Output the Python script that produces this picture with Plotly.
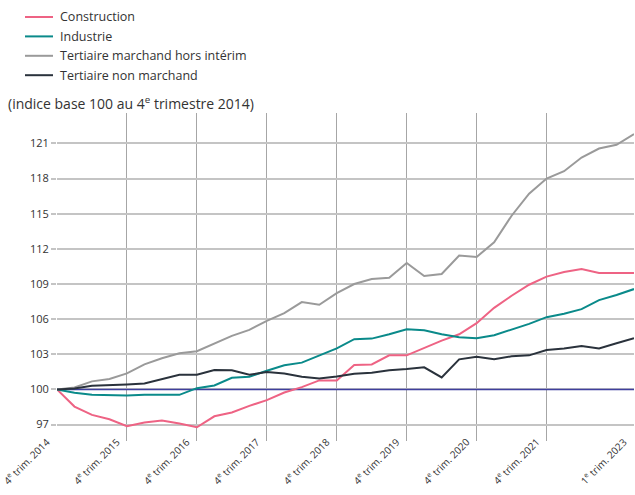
import plotly.graph_objects as go

quarters = list(range(34))  # 4e trim. 2014 -> 1er trim. 2023
BASE = 100

construction = [100, 98.54, 97.83, 97.46, 96.86, 97.17, 97.34, 97.09, 96.77, 97.71,
                98.03, 98.6, 99.09, 99.74, 100.2, 100.77, 100.77, 102.09, 102.14, 102.91,
                102.91, 103.54, 104.17, 104.71, 105.66, 106.97, 108.0, 108.94, 109.63, 110.03,
                110.29, 109.94, 109.94, 109.94]
industrie = [100, 99.71, 99.54, 99.49, 99.49, 99.54, 99.54, 99.54, 100.11, 100.34,
             101.0, 101.09, 101.6, 102.06, 102.29, 102.91, 103.51, 104.29, 104.34, 104.71,
             105.14, 105.06, 104.71, 104.46, 104.37, 104.63, 105.09, 105.6, 106.17, 106.46,
             106.86, 107.63, 108.06, 108.57]
tertiaire_marchand = [100, 100.17, 100.69, 100.89, 101.37, 102.14, 102.66, 103.09, 103.26, 103.94,
                      104.57, 105.09, 105.86, 106.51, 107.46, 107.23, 108.23, 109.0, 109.43, 109.54,
                      110.8, 109.69, 109.86, 111.43, 111.31, 112.57, 114.83, 116.71, 118.0, 118.63,
                      119.8, 120.57, 120.89, 121.8]
tertiaire_non_marchand = [100, 100.09, 100.31, 100.4, 100.43, 100.51, 100.86, 101.26, 101.26, 101.66,
                          101.63, 101.26, 101.49, 101.37, 101.09, 100.94, 101.11, 101.34, 101.43, 101.63,
                          101.74, 101.89, 101.03, 102.57, 102.8, 102.57, 102.83, 102.91, 103.37, 103.49,
                          103.71, 103.49, 103.94, 104.37]

tick_positions = [0, 4, 8, 12, 16, 20, 24, 28, 33]
tick_labels = ["4<sup>e</sup> trim. 2014", "4<sup>e</sup> trim. 2015", "4<sup>e</sup> trim. 2016",
               "4<sup>e</sup> trim. 2017", "4<sup>e</sup> trim. 2018", "4<sup>e</sup> trim. 2019",
               "4<sup>e</sup> trim. 2020", "4<sup>e</sup> trim. 2021", "1<sup>e</sup> trim. 2023"]
y_ticks = [97, 100, 103, 106, 109, 112, 115, 118, 121]

series = [
    ("Construction", construction, "#EE6384"),
    ("Industrie", industrie, "#0A8A8A"),
    ("Tertiaire marchand hors intérim", tertiaire_marchand, "#9A9A9A"),
    ("Tertiaire non marchand", tertiaire_non_marchand, "#2A323C"),
]

# page body margin is removed in the written page (post_script), so no offset
OFF = 0
W, H = 635 - OFF, 495 - OFF
ML, MR, MT, MB = 57 - OFF, 1, 113 - OFF, 54 - OFF
PW, PH = W - ML - MR, H - MT - MB


def px_to_paper_x(px):
    return (px - OFF - ML) / PW


def px_to_paper_y(py):
    return (H - MB - (py - OFF)) / PH


fig = go.Figure()
fig.add_trace(go.Scatter(x=[quarters[0], quarters[-1]], y=[BASE, BASE], mode="lines",
                         line=dict(color="#3F3F9E", width=1.6), showlegend=False, hoverinfo="skip"))
for name, vals, col in series:
    fig.add_trace(go.Scatter(x=quarters, y=vals, mode="lines", name=name,
                             line=dict(color=col, width=2), showlegend=False))

# manual legend (line sample + label)
shapes = []
annotations = []
for i, (name, vals, col) in enumerate(series):
    yy = px_to_paper_y(17 + i * 19.4)
    shapes.append(dict(type="line", xref="paper", yref="paper",
                       x0=px_to_paper_x(25), x1=px_to_paper_x(53), y0=yy, y1=yy,
                       line=dict(color=col, width=2)))
    annotations.append(dict(text=name, xref="paper", yref="paper", x=px_to_paper_x(58), y=yy,
                            xanchor="left", yanchor="middle", showarrow=False,
                            font=dict(size=12.5, color="#333333")))
annotations.append(dict(text="(indice base 100 au 4<sup>e</sup> trimestre 2014)",
                        xref="paper", yref="paper", x=px_to_paper_x(6), y=px_to_paper_y(103),
                        xanchor="left", yanchor="middle", showarrow=False,
                        font=dict(size=14, color="#333333")))
# rotated x tick labels placed at the axis tick positions
for tv, tl in zip(tick_positions, tick_labels):
    annotations.append(dict(text=tl, xref="x", yref="paper", x=tv, y=0, yshift=8, xshift=-3,
                            xanchor="right", yanchor="top", textangle=-45, showarrow=False,
                            borderpad=0, font=dict(size=10, color="#333333")))

fig.update_layout(
    width=W, height=H,
    margin=dict(l=ML, r=MR, t=MT, b=MB, autoexpand=False),
    paper_bgcolor="white", plot_bgcolor="white",
    font=dict(family="Open Sans", size=11, color="#333333"),
    shapes=shapes, annotations=annotations,
    showlegend=False,
)
fig.update_xaxes(range=[0, 33], tickvals=tick_positions, showticklabels=False,
                 showgrid=True, gridcolor="#A6A6A6", gridwidth=1.3, zeroline=False,
                 ticks="", automargin=False)
fig.update_yaxes(range=[95.6, 123.6], tickvals=y_ticks, showgrid=True, gridcolor="#C4C4C4",
                 gridwidth=1.5, zeroline=False, ticks="outside", ticklen=5, tickcolor="#C4C4C4",
                 tickwidth=1.5, tickfont=dict(size=11, color="#333333"), automargin=False)

fig.write_html("out.html", config={"displayModeBar": False},
               post_script="document.body.style.margin='0';")
